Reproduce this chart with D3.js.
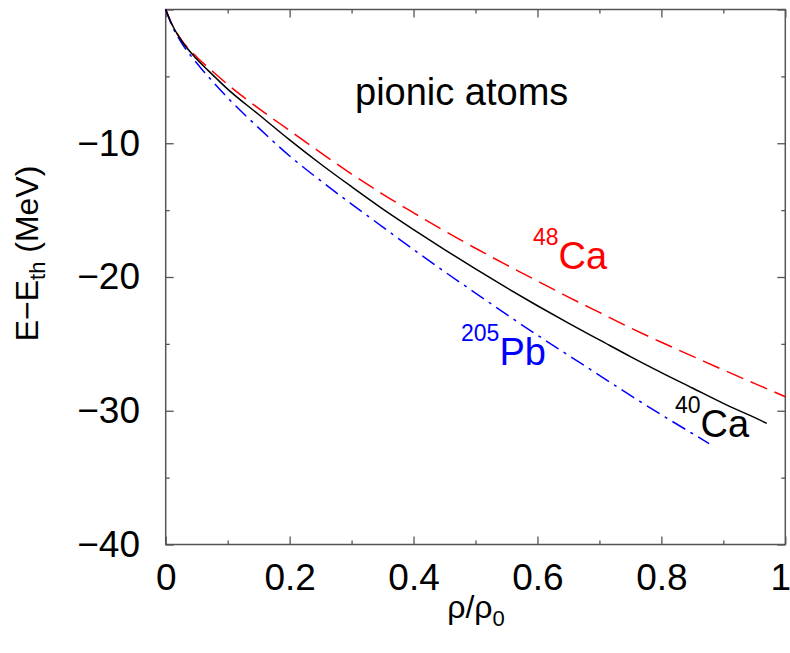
<!DOCTYPE html>
<html>
<head>
<meta charset="utf-8">
<script src="https://cdn.jsdelivr.net/npm/d3@7"></script>
<style>
  html, body { margin: 0; padding: 0; background: #fff; }
  svg { display: block; font-family: "Liberation Sans", Arial, Helvetica, sans-serif; }
</style>
</head>
<body>
<svg id="chart" width="790" height="653"></svg>
<script>
// Binding energy shift E - E_th versus nuclear density rho/rho0 for pionic atoms
const rho = [0, 0.01, 0.025, 0.05, 0.075, 0.1, 0.15, 0.2, 0.25, 0.3, 0.35, 0.4, 0.45,
             0.5, 0.55, 0.6, 0.65, 0.7, 0.75, 0.8, 0.85, 0.9, 0.95];

// 40Ca (solid black), ends at rho = 0.97
const ca40Rho = rho.concat([0.97]);
const ca40E = [0, -1.1, -2.3, -3.7, -4.85, -5.95, -7.85, -9.75, -11.55, -13.25, -14.9, -16.45, -17.95,
               -19.4, -20.8, -22.15, -23.45, -24.7, -25.95, -27.15, -28.3, -29.45, -30.5, -30.94];

// 48Ca (dashed red), runs to rho = 1
const ca48Rho = rho.concat([1.0]);
const ca48E = [0, -1.1, -2.25, -3.55, -4.6, -5.6, -7.4, -9.05, -10.7, -12.3, -13.8, -15.2, -16.55,
               -17.85, -19.1, -20.3, -21.5, -22.65, -23.8, -24.88, -25.92, -26.95, -27.95, -28.95];

// 205Pb (dash-dot blue), ends at rho = 0.877
const pb205Rho = rho.slice(0, 21).concat([0.877]);
const pb205E = [0, -1.2, -2.45, -4.0, -5.35, -6.6, -8.85, -10.95, -12.8, -14.55, -16.25, -17.95, -19.6,
                -21.2, -22.8, -24.35, -25.85, -27.35, -28.85, -30.3, -31.7, -32.45];

const xMajor = [0, 0.2, 0.4, 0.6, 0.8, 1];
const xMinor = [0.1, 0.3, 0.5, 0.7, 0.9];
const xLabels = ["0", "0.2", "0.4", "0.6", "0.8", "1"];
const yMajor = [-40, -30, -20, -10, 0];
const yMinor = [-35, -25, -15, -5];
const yLabels = ["\u221240", "\u221230", "\u221220", "\u221210", ""];

const svg = d3.select("#chart");
const plotL = 165.7, plotR = 785.3, plotT = 9.5, plotB = 544.5;

const x = d3.scaleLinear().domain([0, 1]).range([plotL, plotR]);
const y = d3.scaleLinear().domain([-40, 0]).range([plotB, plotT]);

const axisColor = "#555";

function styleAxis(g) {
  g.select(".domain").remove();
  g.selectAll(".tick line").attr("stroke", axisColor).attr("stroke-width", 1.3);
  g.selectAll(".tick text").attr("fill", "#000").attr("font-size", 37)
    .attr("font-family", "'Liberation Sans', Arial, sans-serif");
}

// bottom axis with labels
const xAxisG = svg.append("g").attr("transform", `translate(0,${plotB})`)
  .call(d3.axisBottom(x).tickValues(xMajor).tickSize(-8).tickPadding(19)
        .tickFormat((d, i) => xLabels[i]))
  .call(styleAxis);
// keep the last label inside the canvas edge
xAxisG.selectAll(".tick text").filter(d => d === 1).attr("dx", -5);
svg.append("g").attr("transform", `translate(0,${plotB})`)
  .call(d3.axisBottom(x).tickValues(xMinor).tickSize(-4).tickFormat(""))
  .call(styleAxis);
// top axis ticks
svg.append("g").attr("transform", `translate(0,${plotT})`)
  .call(d3.axisTop(x).tickValues(xMajor).tickSize(-8).tickFormat(""))
  .call(styleAxis);
svg.append("g").attr("transform", `translate(0,${plotT})`)
  .call(d3.axisTop(x).tickValues(xMinor).tickSize(-4).tickFormat(""))
  .call(styleAxis);
// left axis with labels
svg.append("g").attr("transform", `translate(${plotL},0)`)
  .call(d3.axisLeft(y).tickValues(yMajor).tickSize(-8).tickPadding(25.7)
        .tickFormat((d, i) => yLabels[i]))
  .call(styleAxis);
svg.append("g").attr("transform", `translate(${plotL},0)`)
  .call(d3.axisLeft(y).tickValues(yMinor).tickSize(-4).tickFormat(""))
  .call(styleAxis);
// right axis ticks
svg.append("g").attr("transform", `translate(${plotR},0)`)
  .call(d3.axisRight(y).tickValues(yMajor).tickSize(-8).tickFormat(""))
  .call(styleAxis);
svg.append("g").attr("transform", `translate(${plotR},0)`)
  .call(d3.axisRight(y).tickValues(yMinor).tickSize(-4).tickFormat(""))
  .call(styleAxis);

// frame
svg.append("rect")
  .attr("x", plotL).attr("y", plotT)
  .attr("width", plotR - plotL).attr("height", plotB - plotT)
  .attr("fill", "none").attr("stroke", axisColor).attr("stroke-width", 1.5);

// curves
const line = d3.line().x(d => x(d[0])).y(d => y(d[1])).curve(d3.curveMonotoneX);
const series = [
  { r: ca48Rho, e: ca48E, color: "#ff0000", dash: "18,8" },
  { r: pb205Rho, e: pb205E, color: "#0000ff", dash: "15,6,3,6" },
  { r: ca40Rho, e: ca40E, color: "#000000", dash: null }
];
series.forEach(s => {
  svg.append("path")
    .datum(d3.zip(s.r, s.e))
    .attr("d", line)
    .attr("fill", "none")
    .attr("stroke", s.color)
    .attr("stroke-width", 1.5)
    .attr("stroke-dasharray", s.dash);
});

// annotations
svg.append("text").attr("x", 355).attr("y", 105)
  .attr("font-size", 38).attr("fill", "#000").text("pionic atoms");

function isotope(xPos, yPos, mass, sym, color) {
  const t = svg.append("text").attr("x", xPos).attr("y", yPos).attr("fill", color);
  t.append("tspan").attr("font-size", 23).attr("dy", -24).text(mass);
  t.append("tspan").attr("font-size", 38).attr("dy", 24).text(sym);
}
isotope(533, 269, "48", "Ca", "#ff0000");
isotope(461, 365, "205", "Pb", "#0000ff");
isotope(675, 437, "40", "Ca", "#000000");

// axis titles
const xt = svg.append("text").attr("x", 476).attr("y", 618)
  .attr("text-anchor", "middle").attr("font-size", 32).attr("fill", "#000");
xt.append("tspan").text("\u03c1/\u03c1");
xt.append("tspan").attr("font-size", 22).attr("dy", 8).text("0");

const yt = svg.append("text")
  .attr("transform", "translate(38,253.5) rotate(-90)")
  .attr("text-anchor", "middle").attr("font-size", 32).attr("fill", "#000");
yt.append("tspan").text("E\u2212E");
yt.append("tspan").attr("font-size", 22).attr("dy", 7).text("th");
yt.append("tspan").attr("dy", -7).text(" (MeV)");
</script>
</body>
</html>
